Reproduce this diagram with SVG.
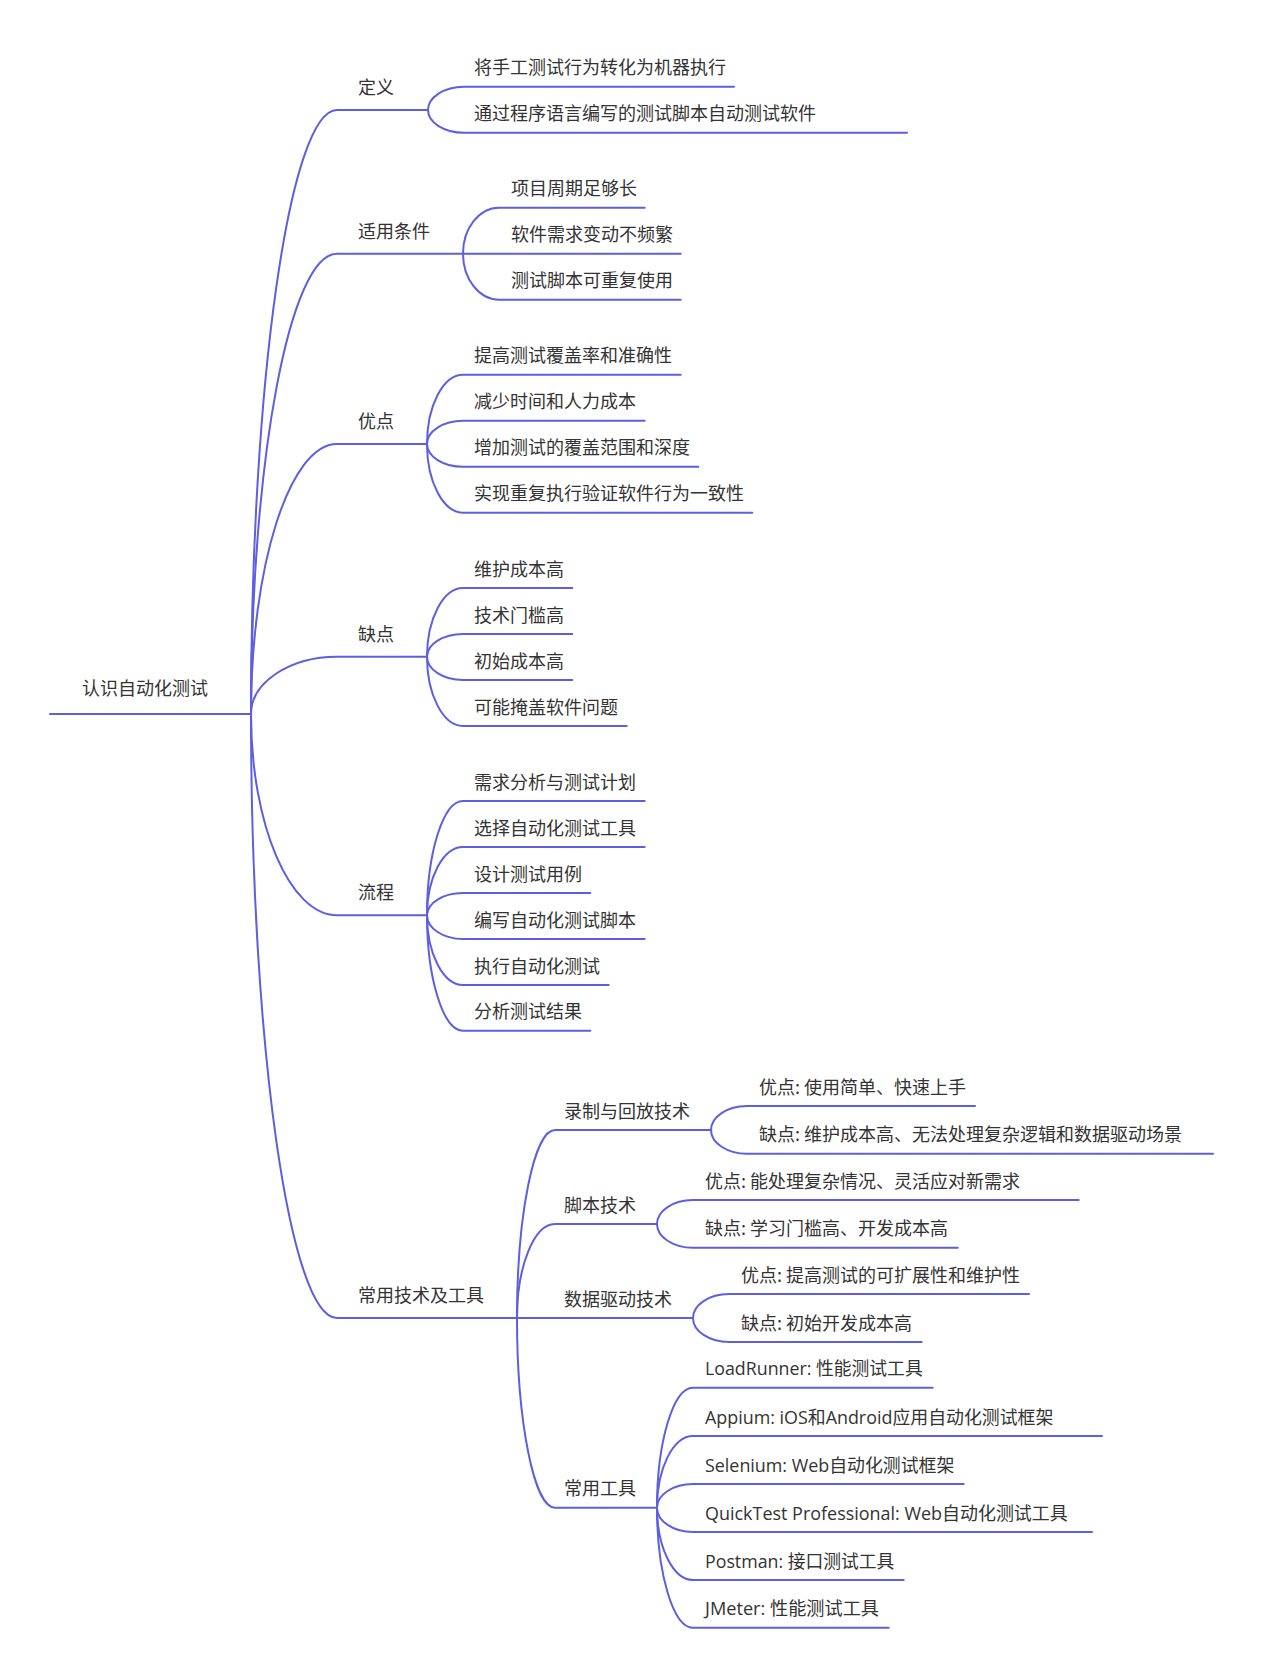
<svg xmlns="http://www.w3.org/2000/svg" width="1263" height="1679" viewBox="0 0 1263 1679">
<style>
.bg{fill:#ffffff}
.ln{fill:none;stroke:#5d5fe0;stroke-width:2;stroke-linecap:round}
text{font-family:"Noto Sans CJK SC","Noto Sans",sans-serif;font-size:18px;fill:#333333}
text.lat{font-family:"Open Sans","Noto Sans CJK SC",sans-serif}
</style>
<rect class="bg" x="0" y="0" width="1263" height="1679"/>
<g id="connectors">
<path class="ln" d="M50,714 L251,714"/>
<path class="ln" d="M251,714 C251,381.8 289.7,110 337,110 L428,110"/>
<path class="ln" d="M251,714 C251,460.8 289.7,253.7 337,253.7 L463,253.7"/>
<path class="ln" d="M251,714 C251,565.5 289.7,444 337,444 L427,444"/>
<path class="ln" d="M251,714 C251,682.5 289.7,656.7 337,656.7 L427,656.7"/>
<path class="ln" d="M251,714 C251,824.7 289.7,915.3 337,915.3 L427,915.3"/>
<path class="ln" d="M251,714 C251,1046.2 289.7,1318 337,1318 L517,1318"/>
<path class="ln" d="M428,110 C428,97.2 444.2,86.7 464,86.7 L734,86.7"/>
<path class="ln" d="M428,110 C428,122.5 444.2,132.7 464,132.7 L907,132.7"/>
<path class="ln" d="M463,253.7 C463,228.4 479.2,207.7 499,207.7 L644.7,207.7"/>
<path class="ln" d="M463,253.7 L680.7,253.7"/>
<path class="ln" d="M463,253.7 C463,279 479.2,299.7 499,299.7 L680.7,299.7"/>
<path class="ln" d="M427,444 C427,405.9 443.2,374.7 463,374.7 L680.7,374.7"/>
<path class="ln" d="M427,444 C427,431.2 443.2,420.7 463,420.7 L644.7,420.7"/>
<path class="ln" d="M427,444 C427,456.5 443.2,466.7 463,466.7 L698.3,466.7"/>
<path class="ln" d="M427,444 C427,481.8 443.2,512.7 463,512.7 L752.3,512.7"/>
<path class="ln" d="M427,656.7 C427,618.9 443.2,588 463,588 L572.3,588"/>
<path class="ln" d="M427,656.7 C427,644.2 443.2,634 463,634 L572.3,634"/>
<path class="ln" d="M427,656.7 C427,669.5 443.2,680 463,680 L572.3,680"/>
<path class="ln" d="M427,656.7 C427,694.8 443.2,726 463,726 L626.7,726"/>
<path class="ln" d="M427,915.3 C427,852.4 443.2,801 463,801 L644.7,801"/>
<path class="ln" d="M427,915.3 C427,877.7 443.2,847 463,847 L644.7,847"/>
<path class="ln" d="M427,915.3 C427,903 443.2,893 463,893 L590.3,893"/>
<path class="ln" d="M427,915.3 C427,928.3 443.2,939 463,939 L644.7,939"/>
<path class="ln" d="M427,915.3 C427,953.6 443.2,985 463,985 L608.7,985"/>
<path class="ln" d="M427,915.3 C427,978.8 443.2,1030.7 463,1030.7 L590.3,1030.7"/>
<path class="ln" d="M517,1318 C517,1214.6 534.1,1130 555,1130 L711,1130"/>
<path class="ln" d="M517,1318 C517,1266.3 534.1,1224 555,1224 L657,1224"/>
<path class="ln" d="M517,1318 L693,1318"/>
<path class="ln" d="M517,1318 C517,1422.3 534.1,1507.7 555,1507.7 L657,1507.7"/>
<path class="ln" d="M711,1130 C711,1116.8 727.2,1106 747,1106 L975,1106"/>
<path class="ln" d="M711,1130 C711,1143 727.2,1153.7 747,1153.7 L1213,1153.7"/>
<path class="ln" d="M657,1224 C657,1210.8 673.2,1200 693,1200 L1078.7,1200"/>
<path class="ln" d="M657,1224 C657,1237 673.2,1247.7 693,1247.7 L957.7,1247.7"/>
<path class="ln" d="M693,1318 C693,1304.8 709.2,1294 729,1294 L1029,1294"/>
<path class="ln" d="M693,1318 C693,1331.2 709.2,1342 729,1342 L921.7,1342"/>
<path class="ln" d="M657,1507.7 C657,1441.7 673.2,1387.7 693,1387.7 L932.7,1387.7"/>
<path class="ln" d="M657,1507.7 C657,1468.3 673.2,1436 693,1436 L1102,1436"/>
<path class="ln" d="M657,1507.7 C657,1494.7 673.2,1484 693,1484 L963.7,1484"/>
<path class="ln" d="M657,1507.7 C657,1521.1 673.2,1532 693,1532 L1092,1532"/>
<path class="ln" d="M657,1507.7 C657,1547.5 673.2,1580 693,1580 L903.7,1580"/>
<path class="ln" d="M657,1507.7 C657,1573.7 673.2,1627.7 693,1627.7 L888.7,1627.7"/>
</g>
<g id="root"><text x="82" y="694.5">认识自动化测试</text></g>
<g id="n-def"><text x="358" y="94">定义</text></g>
<g id="n-def-1"><text x="474" y="74.2">将手工测试行为转化为机器执行</text></g>
<g id="n-def-2"><text x="474" y="120.2">通过程序语言编写的测试脚本自动测试软件</text></g>
<g id="n-cond"><text x="358" y="237.7">适用条件</text></g>
<g id="n-cond-1"><text x="511" y="195.2">项目周期足够长</text></g>
<g id="n-cond-2"><text x="511" y="241.2">软件需求变动不频繁</text></g>
<g id="n-cond-3"><text x="511" y="287.2">测试脚本可重复使用</text></g>
<g id="n-pro"><text x="358" y="428">优点</text></g>
<g id="n-pro-1"><text x="474" y="362.2">提高测试覆盖率和准确性</text></g>
<g id="n-pro-2"><text x="474" y="408.2">减少时间和人力成本</text></g>
<g id="n-pro-3"><text x="474" y="454.2">增加测试的覆盖范围和深度</text></g>
<g id="n-pro-4"><text x="474" y="500.2">实现重复执行验证软件行为一致性</text></g>
<g id="n-con"><text x="358" y="640.7">缺点</text></g>
<g id="n-con-1"><text x="474" y="575.5">维护成本高</text></g>
<g id="n-con-2"><text x="474" y="621.5">技术门槛高</text></g>
<g id="n-con-3"><text x="474" y="667.5">初始成本高</text></g>
<g id="n-con-4"><text x="474" y="713.5">可能掩盖软件问题</text></g>
<g id="n-flow"><text x="358" y="899.3">流程</text></g>
<g id="n-flow-1"><text x="474" y="788.5">需求分析与测试计划</text></g>
<g id="n-flow-2"><text x="474" y="834.5">选择自动化测试工具</text></g>
<g id="n-flow-3"><text x="474" y="880.5">设计测试用例</text></g>
<g id="n-flow-4"><text x="474" y="926.5">编写自动化测试脚本</text></g>
<g id="n-flow-5"><text x="474" y="972.5">执行自动化测试</text></g>
<g id="n-flow-6"><text x="474" y="1018.2">分析测试结果</text></g>
<g id="n-tech"><text x="358" y="1302">常用技术及工具</text></g>
<g id="n-rec"><text x="564" y="1117.5">录制与回放技术</text></g>
<g id="n-rec-1"><text x="759" y="1093.5">优点: 使用简单、快速上手</text></g>
<g id="n-rec-2"><text x="759" y="1141.2">缺点: 维护成本高、无法处理复杂逻辑和数据驱动场景</text></g>
<g id="n-script"><text x="564" y="1211.5">脚本技术</text></g>
<g id="n-script-1"><text x="705" y="1187.5">优点: 能处理复杂情况、灵活应对新需求</text></g>
<g id="n-script-2"><text x="705" y="1235.2">缺点: 学习门槛高、开发成本高</text></g>
<g id="n-data"><text x="564" y="1305.5">数据驱动技术</text></g>
<g id="n-data-1"><text x="741" y="1281.5">优点: 提高测试的可扩展性和维护性</text></g>
<g id="n-data-2"><text x="741" y="1329.5">缺点: 初始开发成本高</text></g>
<g id="n-tools"><text x="564" y="1495.2">常用工具</text></g>
<g id="n-tools-1"><text class="lat" x="705" y="1375.2" textLength="217.7" lengthAdjust="spacingAndGlyphs">LoadRunner: 性能测试工具</text></g>
<g id="n-tools-2"><text class="lat" x="705" y="1423.5" textLength="348.3" lengthAdjust="spacingAndGlyphs">Appium: iOS和Android应用自动化测试框架</text></g>
<g id="n-tools-3"><text class="lat" x="705" y="1471.5" textLength="249.3" lengthAdjust="spacingAndGlyphs">Selenium: Web自动化测试框架</text></g>
<g id="n-tools-4"><text class="lat" x="705" y="1519.5" textLength="362.7" lengthAdjust="spacingAndGlyphs">QuickTest Professional: Web自动化测试工具</text></g>
<g id="n-tools-5"><text class="lat" x="705" y="1567.5" textLength="189.3" lengthAdjust="spacingAndGlyphs">Postman: 接口测试工具</text></g>
<g id="n-tools-6"><text class="lat" x="705" y="1615.2" textLength="174" lengthAdjust="spacingAndGlyphs">JMeter: 性能测试工具</text></g>
</svg>
